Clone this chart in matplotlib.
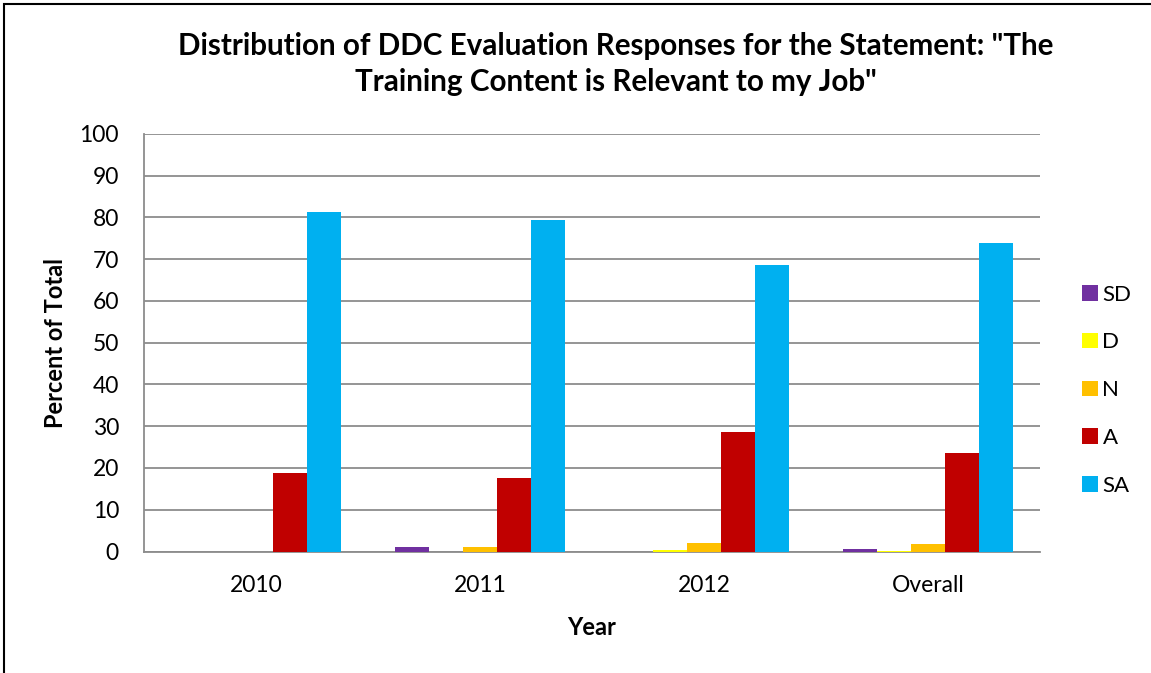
import matplotlib
matplotlib.use('Agg')
import matplotlib.pyplot as plt
import numpy as np
from matplotlib.patches import Rectangle

plt.rcParams['font.family'] = ['Lato', 'DejaVu Sans']

# data
years = ['2010', '2011', '2012', 'Overall']
responses = ['SD', 'D', 'N', 'A', 'SA']
sd = [0.0, 1.2, 0.0, 0.5]
d = [0.0, 0.0, 0.4, 0.15]
n = [0.0, 1.1, 2.1, 1.7]
a = [18.7, 17.6, 28.6, 23.5]
sa = [81.2, 79.3, 68.5, 73.8]
colors = ['#7030A0', '#FFFF00', '#FFC000', '#C00000', '#00B0F0']

fig = plt.figure(figsize=(11.51, 6.73), dpi=100)
ax = fig.add_axes([0.1251, 0.1805, 0.7785, 0.6208])

x = np.arange(len(years))
w = 0.152
for i, (vals, lab, col) in enumerate(zip([sd, d, n, a, sa], responses, colors)):
    ax.bar(x + (i - 2) * w, vals, w, color=col, label=lab, zorder=3)

ax.set_xlim(-0.5, len(years) - 0.5)
ax.set_ylim(0, 100)
ax.set_yticks(range(0, 101, 10))
ax.set_xticks(x)
ax.set_xticklabels(years)
ax.tick_params(axis='both', length=0, labelsize=16.5)
ax.tick_params(axis='x', pad=17)
ax.tick_params(axis='y', pad=18)
ax.yaxis.grid(True, color='#8c8c8c', linewidth=1.3, zorder=0)
for s in ['top', 'right']:
    ax.spines[s].set_visible(False)
for s in ['left', 'bottom']:
    ax.spines[s].set_color('#8c8c8c')
    ax.spines[s].set_linewidth(1.3)

ax.set_xlabel('Year', fontsize=17, fontweight='bold', labelpad=14)
ax.set_ylabel('Percent of Total', fontsize=17, fontweight='bold', labelpad=9)

fig.text(0.535, 0.9056, 'Distribution of DDC Evaluation Responses for the Statement: "The\nTraining Content is Relevant to my Job"',
         ha='center', va='center', fontsize=21.3, fontweight='bold', linespacing=1.35)

ax.legend(loc='center left', bbox_to_anchor=(1.025, 0.386), frameon=False, fontsize=16,
          handlelength=0.7, handleheight=0.7, handletextpad=0.2, labelspacing=1.25)

fig.patches.append(Rectangle((4 / 1151, -0.1), 1.2, 1.1 - 4 / 673, transform=fig.transFigure,
                             fill=False, edgecolor='black', linewidth=1.5))

fig.savefig('out.png', dpi=100)
